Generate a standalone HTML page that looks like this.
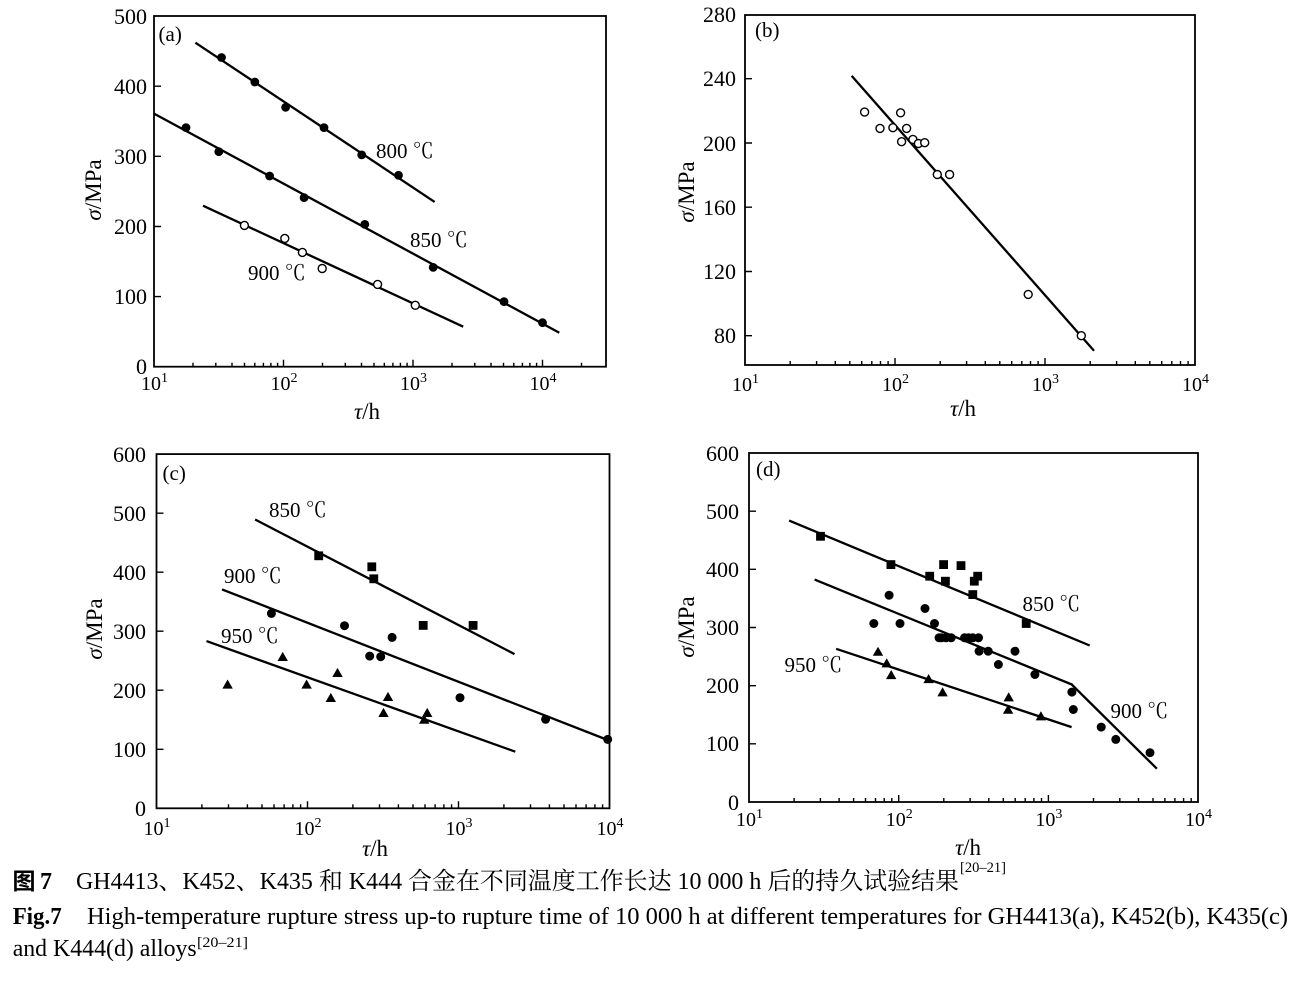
<!DOCTYPE html>
<html><head><meta charset="utf-8"><style>
html,body{margin:0;padding:0;background:#fff;}
svg{display:block;}
text{font-family:"Liberation Serif","Noto Serif CJK SC",serif;fill:#000;}
.yt{font-size:22px;text-anchor:end;}
.xt{font-size:20px;}
.lab{font-size:21px;}
.ax{font-size:23px;}
.fr{fill:none;stroke:#000;stroke-width:1.8;}
.tk{fill:none;stroke:#000;stroke-width:1.4;}
.ln{fill:none;stroke:#000;stroke-width:2.3;}
.oc{fill:#fff;stroke:#000;stroke-width:1.4;}
.cap{font-size:24px;}
</style></head><body>
<svg width="1299" height="990" viewBox="0 0 1299 990" xmlns="http://www.w3.org/2000/svg">
<defs>
<path id="tri" d="M0 -5.5L5.2 3.6L-5.2 3.6Z" fill="#000"/>
<rect id="sq" x="-4.4" y="-4.4" width="8.8" height="8.8" fill="#000"/>
</defs>

<!-- ================= Panel (a) ================= -->
<rect class="fr" x="154" y="16" width="452" height="350.7"/>
<path class="tk" d="M283.5 366.7v-7M413 366.7v-7M542.5 366.7v-7M154 296.6h7M154 226.5h7M154 156.3h7M154 86.2h7"/>
<path class="tk" d="M193 366.7v-4M215.8 366.7v-4M232 366.7v-4M244.5 366.7v-4M254.8 366.7v-4M263.4 366.7v-4M270.9 366.7v-4M277.6 366.7v-4M322.5 366.7v-4M345.3 366.7v-4M361.5 366.7v-4M374 366.7v-4M384.3 366.7v-4M392.9 366.7v-4M400.4 366.7v-4M407.1 366.7v-4M452 366.7v-4M474.8 366.7v-4M491 366.7v-4M503.5 366.7v-4M513.8 366.7v-4M522.4 366.7v-4M529.9 366.7v-4M536.6 366.7v-4M581.5 366.7v-4"/>
<text class="yt" x="147" y="374">0</text>
<text class="yt" x="147" y="304">100</text>
<text class="yt" x="147" y="234">200</text>
<text class="yt" x="147" y="164">300</text>
<text class="yt" x="147" y="94">400</text>
<text class="yt" x="147" y="24">500</text>
<text class="xt" x="141" y="390">10<tspan font-size="14" dy="-8">1</tspan></text>
<text class="xt" x="270.5" y="390">10<tspan font-size="14" dy="-8">2</tspan></text>
<text class="xt" x="400" y="390">10<tspan font-size="14" dy="-8">3</tspan></text>
<text class="xt" x="529.5" y="390">10<tspan font-size="14" dy="-8">4</tspan></text>
<text class="ax" x="367" y="419" text-anchor="middle"><tspan font-style="italic">τ</tspan>/h</text>
<text class="ax" transform="translate(101 190) rotate(-90)" text-anchor="middle"><tspan font-style="italic">σ</tspan>/MPa</text>
<text class="lab" x="158.5" y="41">(a)</text>
<text class="lab" x="376" y="158">800 ℃</text>
<text class="lab" x="410" y="247">850 ℃</text>
<text class="lab" x="248" y="280">900 ℃</text>
<path class="ln" d="M195.4 42.7L434.6 201.9"/>
<path class="ln" d="M154 113.6L559.3 332.7"/>
<path class="ln" d="M203 205.7L463.2 326.7"/>
<g fill="#000">
<circle cx="221.5" cy="57.5" r="4.4"/><circle cx="254.8" cy="82" r="4.4"/><circle cx="285.6" cy="107.3" r="4.4"/><circle cx="324" cy="127.6" r="4.4"/><circle cx="361.7" cy="154.9" r="4.4"/><circle cx="398.5" cy="175.3" r="4.4"/>
<circle cx="186" cy="127.6" r="4.4"/><circle cx="218.8" cy="151.7" r="4.4"/><circle cx="269.6" cy="176" r="4.4"/><circle cx="304.1" cy="197.7" r="4.4"/><circle cx="364.8" cy="224.4" r="4.4"/><circle cx="433.2" cy="267.4" r="4.4"/><circle cx="504" cy="301.7" r="4.4"/><circle cx="542.5" cy="322.7" r="4.4"/>
</g>
<g class="oc">
<circle cx="244.4" cy="225.4" r="4"/><circle cx="284.8" cy="238.4" r="4"/><circle cx="302.4" cy="252.4" r="4"/><circle cx="322.2" cy="268.5" r="4"/><circle cx="377.6" cy="284.4" r="4"/><circle cx="415.3" cy="305.3" r="4"/>
</g>

<!-- ================= Panel (b) ================= -->
<rect class="fr" x="745" y="15" width="450" height="350"/>
<path class="tk" d="M895 365v-7M1045 365v-7M745 335.7h7M745 271.5h7M745 207.2h7M745 143h7M745 78.7h7"/>
<path class="tk" d="M790.2 365v-4M816.6 365v-4M835.3 365v-4M849.8 365v-4M861.7 365v-4M871.8 365v-4M880.5 365v-4M888.1 365v-4M940.2 365v-4M966.6 365v-4M985.3 365v-4M999.8 365v-4M1011.7 365v-4M1021.8 365v-4M1030.5 365v-4M1038.1 365v-4M1090.2 365v-4M1116.6 365v-4M1135.3 365v-4M1149.8 365v-4M1161.7 365v-4M1171.8 365v-4M1180.5 365v-4M1188.1 365v-4"/>
<text class="yt" x="736" y="343">80</text>
<text class="yt" x="736" y="279">120</text>
<text class="yt" x="736" y="215">160</text>
<text class="yt" x="736" y="151">200</text>
<text class="yt" x="736" y="86">240</text>
<text class="yt" x="736" y="22">280</text>
<text class="xt" x="732" y="391">10<tspan font-size="14" dy="-8">1</tspan></text>
<text class="xt" x="882" y="391">10<tspan font-size="14" dy="-8">2</tspan></text>
<text class="xt" x="1032" y="391">10<tspan font-size="14" dy="-8">3</tspan></text>
<text class="xt" x="1182" y="391">10<tspan font-size="14" dy="-8">4</tspan></text>
<text class="ax" x="963" y="416" text-anchor="middle"><tspan font-style="italic">τ</tspan>/h</text>
<text class="ax" transform="translate(694 192) rotate(-90)" text-anchor="middle"><tspan font-style="italic">σ</tspan>/MPa</text>
<text class="lab" x="755" y="37">(b)</text>
<path class="ln" d="M851.7 75.9L1094 350.7"/>
<g class="oc">
<circle cx="864.6" cy="112.1" r="4"/><circle cx="880" cy="128.4" r="4"/><circle cx="892.9" cy="127.7" r="4"/><circle cx="900.6" cy="112.8" r="4"/><circle cx="906.6" cy="128.4" r="4"/><circle cx="901.6" cy="141.7" r="4"/><circle cx="912.9" cy="139.4" r="4"/><circle cx="918.4" cy="143.5" r="4"/><circle cx="924.7" cy="142.7" r="4"/><circle cx="937.3" cy="174.5" r="4"/><circle cx="949.6" cy="174.5" r="4"/><circle cx="1028.2" cy="294.4" r="4"/><circle cx="1081.3" cy="335.7" r="4"/>
</g>

<!-- ================= Panel (c) ================= -->
<rect class="fr" x="156.5" y="454.1" width="453" height="354.2"/>
<path class="tk" d="M307.5 808.3v-7M458.5 808.3v-7M156.5 749.3h7M156.5 690.2h7M156.5 631.2h7M156.5 572.2h7M156.5 513.2h7"/>
<path class="tk" d="M201.9 808.3v-4M228.5 808.3v-4M247.4 808.3v-4M262 808.3v-4M274 808.3v-4M284.1 808.3v-4M292.9 808.3v-4M300.6 808.3v-4M352.9 808.3v-4M379.5 808.3v-4M398.4 808.3v-4M413 808.3v-4M425 808.3v-4M435.1 808.3v-4M443.9 808.3v-4M451.6 808.3v-4M503.9 808.3v-4M530.5 808.3v-4M549.4 808.3v-4M564 808.3v-4M576 808.3v-4M586.1 808.3v-4M594.9 808.3v-4M602.6 808.3v-4"/>
<text class="yt" x="146" y="816">0</text>
<text class="yt" x="146" y="757">100</text>
<text class="yt" x="146" y="698">200</text>
<text class="yt" x="146" y="639">300</text>
<text class="yt" x="146" y="580">400</text>
<text class="yt" x="146" y="521">500</text>
<text class="yt" x="146" y="462">600</text>
<text class="xt" x="143.5" y="835">10<tspan font-size="14" dy="-8">1</tspan></text>
<text class="xt" x="294.5" y="835">10<tspan font-size="14" dy="-8">2</tspan></text>
<text class="xt" x="445.5" y="835">10<tspan font-size="14" dy="-8">3</tspan></text>
<text class="xt" x="596.5" y="835">10<tspan font-size="14" dy="-8">4</tspan></text>
<text class="ax" x="375" y="856" text-anchor="middle"><tspan font-style="italic">τ</tspan>/h</text>
<text class="ax" transform="translate(102 629) rotate(-90)" text-anchor="middle"><tspan font-style="italic">σ</tspan>/MPa</text>
<text class="lab" x="162.5" y="480">(c)</text>
<text class="lab" x="269" y="517">850 ℃</text>
<text class="lab" x="224" y="583">900 ℃</text>
<text class="lab" x="221" y="643">950 ℃</text>
<path class="ln" d="M255.1 519.5L514.5 654.1"/>
<path class="ln" d="M222 589.4L607.7 740"/>
<path class="ln" d="M206.5 641.1L515.3 751.7"/>
<g>
<use href="#sq" x="318.7" y="555.8"/><use href="#sq" x="371.8" y="566.8"/><use href="#sq" x="373.8" y="578.8"/><use href="#sq" x="423.2" y="625.4"/><use href="#sq" x="473.1" y="625.4"/>
</g>
<g fill="#000">
<circle cx="271.4" cy="613.4" r="4.5"/><circle cx="344.5" cy="625.7" r="4.5"/><circle cx="369.7" cy="656.1" r="4.5"/><circle cx="380.7" cy="656.7" r="4.5"/><circle cx="392.1" cy="637.4" r="4.5"/><circle cx="460" cy="697.7" r="4.5"/><circle cx="545.6" cy="719.3" r="4.5"/><circle cx="607.7" cy="739.4" r="4.5"/>
</g>
<g>
<use href="#tri" x="227.6" y="685"/><use href="#tri" x="282.7" y="657.4"/><use href="#tri" x="306.6" y="685"/><use href="#tri" x="330.8" y="698.4"/><use href="#tri" x="337.5" y="673.4"/><use href="#tri" x="388" y="697.4"/><use href="#tri" x="383.5" y="713.4"/><use href="#tri" x="424.2" y="720.1"/><use href="#tri" x="427.2" y="713.4"/>
</g>

<!-- ================= Panel (d) ================= -->
<rect class="fr" x="749" y="453" width="449" height="349"/>
<path class="tk" d="M898.7 802v-7M1048.4 802v-7M749 743.8h7M749 685.7h7M749 627.5h7M749 569.3h7M749 511.2h7"/>
<path class="tk" d="M794.1 802v-4M820.4 802v-4M839.1 802v-4M853.6 802v-4M865.5 802v-4M875.5 802v-4M884.2 802v-4M891.8 802v-4M943.8 802v-4M970.1 802v-4M988.8 802v-4M1003.3 802v-4M1015.2 802v-4M1025.2 802v-4M1033.9 802v-4M1041.5 802v-4M1093.5 802v-4M1119.8 802v-4M1138.5 802v-4M1153 802v-4M1164.9 802v-4M1174.9 802v-4M1183.6 802v-4M1191.2 802v-4"/>
<text class="yt" x="739" y="810">0</text>
<text class="yt" x="739" y="751">100</text>
<text class="yt" x="739" y="693">200</text>
<text class="yt" x="739" y="635">300</text>
<text class="yt" x="739" y="577">400</text>
<text class="yt" x="739" y="519">500</text>
<text class="yt" x="739" y="461">600</text>
<text class="xt" x="736" y="826">10<tspan font-size="14" dy="-8">1</tspan></text>
<text class="xt" x="885.7" y="826">10<tspan font-size="14" dy="-8">2</tspan></text>
<text class="xt" x="1035.4" y="826">10<tspan font-size="14" dy="-8">3</tspan></text>
<text class="xt" x="1185" y="826">10<tspan font-size="14" dy="-8">4</tspan></text>
<text class="ax" x="968" y="855" text-anchor="middle"><tspan font-style="italic">τ</tspan>/h</text>
<text class="ax" transform="translate(694 627) rotate(-90)" text-anchor="middle"><tspan font-style="italic">σ</tspan>/MPa</text>
<text class="lab" x="756" y="476">(d)</text>
<text class="lab" x="1022.5" y="611">850 ℃</text>
<text class="lab" x="784.5" y="672">950 ℃</text>
<text class="lab" x="1110.5" y="718">900 ℃</text>
<path class="ln" d="M789.1 520.6L1089.7 645.5"/>
<path class="ln" d="M814.6 579.6L1071.6 684.4L1156.9 768.7"/>
<path class="ln" d="M836.1 648.8L1071.6 727.1"/>
<g>
<use href="#sq" x="820.5" y="536.3"/><use href="#sq" x="890.9" y="564.6"/><use href="#sq" x="929.7" y="576.2"/><use href="#sq" x="943.6" y="564.6"/><use href="#sq" x="945.4" y="581.2"/><use href="#sq" x="961" y="565.6"/><use href="#sq" x="974.3" y="581.2"/><use href="#sq" x="977.7" y="576.2"/><use href="#sq" x="972.8" y="594.6"/><use href="#sq" x="1026.2" y="623.5"/>
</g>
<g fill="#000">
<circle cx="873.8" cy="623.5" r="4.5"/><circle cx="889.1" cy="595.2" r="4.5"/><circle cx="900" cy="623.5" r="4.5"/><circle cx="925" cy="608.5" r="4.5"/><circle cx="934.5" cy="623.5" r="4.5"/><circle cx="939.1" cy="637.8" r="4.5"/><circle cx="941.5" cy="637.8" r="4.5"/><circle cx="946" cy="637.8" r="4.5"/><circle cx="951.2" cy="637.8" r="4.5"/><circle cx="964.6" cy="637.8" r="4.5"/><circle cx="968.6" cy="637.8" r="4.5"/><circle cx="972.8" cy="637.8" r="4.5"/><circle cx="978.5" cy="637.8" r="4.5"/><circle cx="979.1" cy="651.2" r="4.5"/><circle cx="988.2" cy="651.2" r="4.5"/><circle cx="998.4" cy="664.5" r="4.5"/><circle cx="1015" cy="651.2" r="4.5"/><circle cx="1034.9" cy="674.5" r="4.5"/><circle cx="1071.9" cy="692.1" r="4.5"/><circle cx="1073.3" cy="709.5" r="4.5"/><circle cx="1101.2" cy="727.1" r="4.5"/><circle cx="1115.8" cy="739.4" r="4.5"/><circle cx="1150" cy="752.7" r="4.5"/>
</g>
<g>
<use href="#tri" x="878" y="652.2"/><use href="#tri" x="886.7" y="663.8"/><use href="#tri" x="891.2" y="675.5"/><use href="#tri" x="928.6" y="679.5"/><use href="#tri" x="942.6" y="692.8"/><use href="#tri" x="1008.7" y="697.8"/><use href="#tri" x="1008.1" y="710.1"/><use href="#tri" x="1040.9" y="716.8"/>
</g>

<!-- ================= Caption ================= -->
<text x="12.5" y="889" font-size="23" font-weight="bold" style="font-family:'Noto Sans CJK SC','WenQuanYi Zen Hei',sans-serif;">图</text>
<text x="40" y="889" class="cap" font-weight="bold">7</text>
<text x="76" y="889" class="cap" textLength="883" lengthAdjust="spacingAndGlyphs">GH4413、K452、K435 和 K444 合金在不同温度工作长达 10 000 h 后的持久试验结果</text>
<text x="960" y="872" font-size="15" textLength="46" lengthAdjust="spacingAndGlyphs">[20–21]</text>
<text x="12.7" y="924" class="cap" font-weight="bold" textLength="49" lengthAdjust="spacingAndGlyphs">Fig.7</text>
<text x="87" y="924" class="cap" textLength="1201" lengthAdjust="spacingAndGlyphs">High-temperature rupture stress up-to rupture time of 10 000 h at different temperatures for GH4413(a), K452(b), K435(c)</text>
<text x="12.7" y="956" class="cap" textLength="184" lengthAdjust="spacingAndGlyphs">and K444(d) alloys</text>
<text x="197" y="947" font-size="15" textLength="51" lengthAdjust="spacingAndGlyphs">[20–21]</text>
</svg>
</body></html>
